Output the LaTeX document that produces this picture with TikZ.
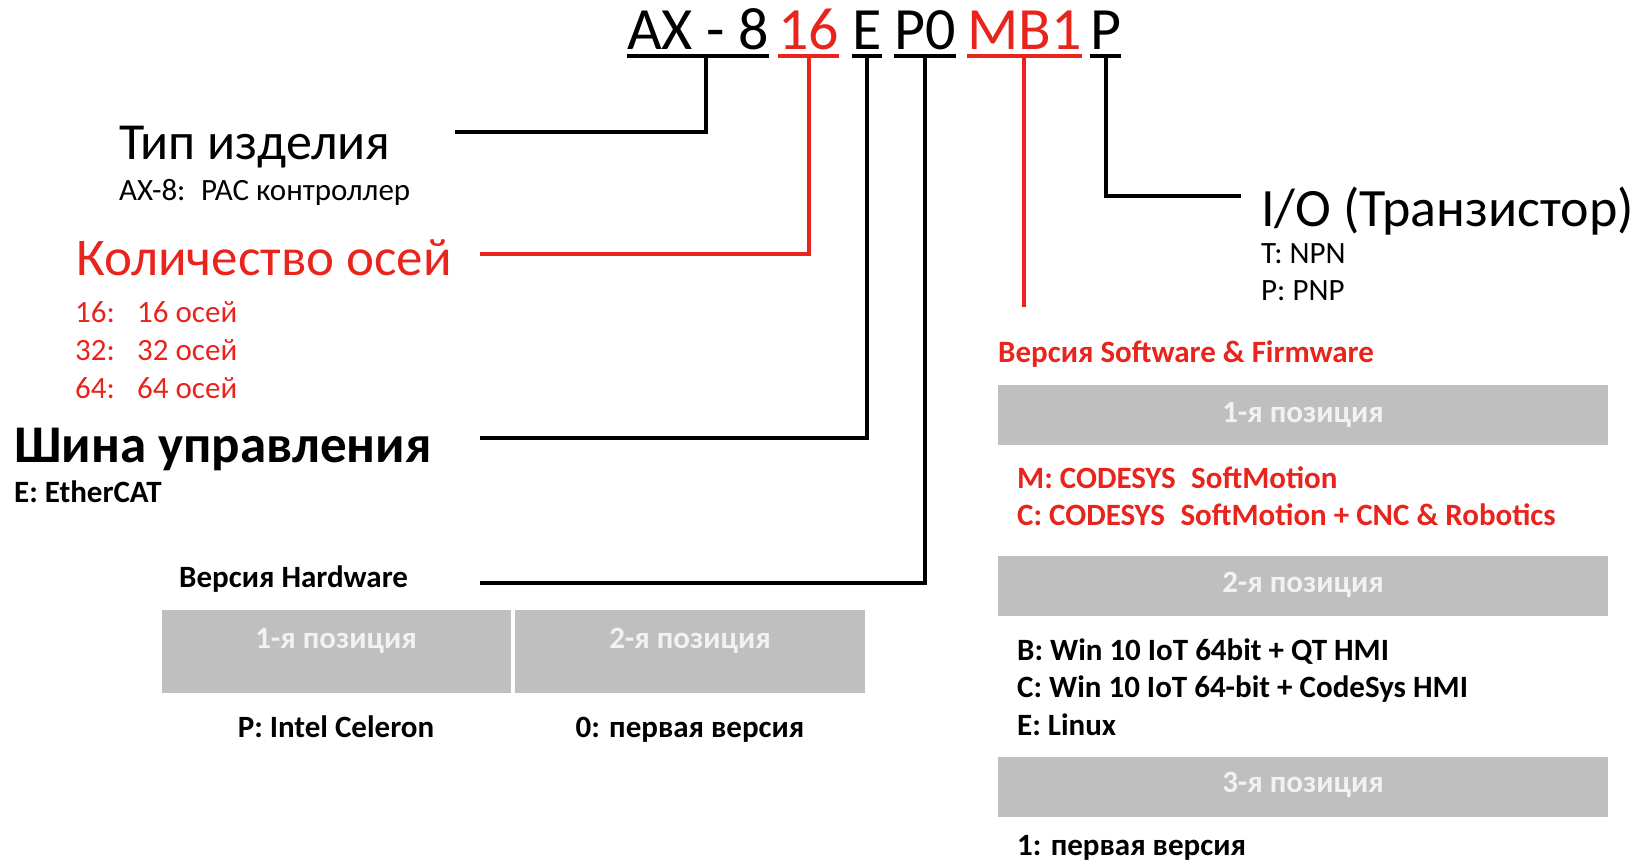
\documentclass[tikz,border=0pt]{standalone}
\usepackage{fontspec}
\setmainfont{Carlito}
\definecolor{codered}{RGB}{232,36,28}
\definecolor{boxgrey}{RGB}{191,191,191}
\definecolor{boxwhite}{RGB}{242,242,242}

\begin{document}
\begin{tikzpicture}[x=1pt, y=-1pt,
    codetext/.style={anchor=base west, inner sep=0pt, font=\fontsize{60}{72}\selectfont},
    titletext/.style={anchor=base west, inner sep=0pt, font=\fontsize{53}{64}\selectfont},
    smalltext/.style={anchor=base west, inner sep=0pt, font=\fontsize{31}{36}\selectfont},
    boldtext/.style={anchor=base west, inner sep=0pt, font=\fontsize{31}{36}\selectfont\bfseries},
    greybox/.style={fill=boxgrey, draw=none, inner sep=0pt, minimum width=610pt, minimum height=60pt},
    boxtext/.style={anchor=base, inner sep=0pt, text=boxwhite, font=\fontsize{31}{36}\selectfont\bfseries},
    wire/.style={line width=4pt},
    ]
    \useasboundingbox (0,0) rectangle (1646,864);

    % code line
    \node [codetext] (ax) at (627,50) {AX - 8};
    \node [codetext, text=codered] (axes) at (778,50) {16};
    \node [codetext] (bus) at (852,50) {E};
    \node [codetext] (hw) at (894,50) {P0};
    \node [codetext, text=codered] (sw) at (967,50) {MB1};
    \node [codetext] (io) at (1090,50) {P};

    \foreach \n in {ax, bus, hw, io}
        \draw [wire] ([yshift=-6pt]\n.base west) -- ([yshift=-6pt]\n.base east);
    \foreach \n in {axes, sw}
        \draw [wire, codered] ([yshift=-6pt]\n.base west) -- ([yshift=-6pt]\n.base east);

    % left side
    \node [titletext, font=\fontsize{52}{62}\selectfont] (type) at (119,160) {Тип изделия};
    \node [smalltext] (typeval) at (119,200) {AX-8:\enspace PAC контроллер};

    \node [titletext, text=codered] (axestitle) at (76,275) {Количество осей};
    \foreach \v/\y in {16/322, 32/360, 64/398} {
        \node [smalltext, text=codered] (key\v) at (75,\y) {\v:};
        \node [smalltext, text=codered] (val\v) at (137,\y) {\v\ осей};
    }

    \node [titletext, font=\fontsize{53}{64}\selectfont\bfseries] (bustitle) at (14,462) {Шина управления};
    \node [boldtext] (busval) at (14,502) {E: EtherCAT};

    \node [boldtext] (hwtitle) at (179,587) {Версия Hardware};
    \node [greybox, minimum width=349pt, minimum height=83pt] (hwbox1) at (336.5,651.5) {};
    \node [greybox, minimum width=350pt, minimum height=83pt] (hwbox2) at (690,651.5) {};
    \node [boxtext] (hwpos1) at (336,648) {1-я позиция};
    \node [boxtext] (hwpos2) at (690,648) {2-я позиция};
    \node [boldtext, anchor=base] (cpu) at (336,737) {P: Intel Celeron};
    \node [boldtext, anchor=base] (hwver) at (690,737) {0: первая версия};

    % right side
    \node [titletext, font=\fontsize{54}{64}\selectfont] (iotitle) at (1261,226) {I/O (Транзистор)};
    \node [smalltext] (npn) at (1261,263) {T: NPN};
    \node [smalltext] (pnp) at (1261,300) {P: PNP};

    \node [boldtext, text=codered] (swtitle) at (998,362) {Версия Software \& Firmware};
    \node [greybox] (swbox1) at (1303,415) {};
    \node [greybox] (swbox2) at (1303,586) {};
    \node [greybox] (swbox3) at (1303,786.5) {};
    \node [boxtext] (swpos1) at (1303,422) {1-я позиция};
    \node [boxtext] (swpos2) at (1303,592) {2-я позиция};
    \node [boxtext] (swpos3) at (1303,792) {3-я позиция};

    \node [boldtext, text=codered] (swm) at (1017,488) {M: CODESYS\enspace SoftMotion};
    \node [boldtext, text=codered] (swc) at (1017,525) {C: CODESYS\enspace SoftMotion + CNC \& Robotics};
    \node [boldtext] (osb) at (1017,660) {B: Win 10 IoT 64bit + QT HMI};
    \node [boldtext] (osc) at (1017,697) {C: Win 10 IoT 64-bit + CodeSys HMI};
    \node [boldtext] (ose) at (1017,735) {E: Linux};
    \node [boldtext] (swver) at (1017,855) {1: первая версия};

    % connectors
    \coordinate (typeend) at (455,132);
    \coordinate (axesend) at (480,254);
    \coordinate (busend) at (480,438);
    \coordinate (hwend) at (480,583);
    \coordinate (swend) at (1022,307);
    \coordinate (ioend) at (1241,196);

    \draw [wire] ([xshift=8pt, yshift=-6pt]ax.base) |- (typeend);
    \draw [wire, codered] ([yshift=-6pt]axes.base) |- (axesend);
    \draw [wire] ([yshift=-6pt]bus.base) |- (busend);
    \draw [wire] ([yshift=-6pt]hw.base) |- (hwend);
    \draw [wire, codered] ([yshift=-6pt]sw.base) -- (sw.base |- swend);
    \draw [wire] ([yshift=-6pt]io.base) |- (ioend);
\end{tikzpicture}
\end{document}
